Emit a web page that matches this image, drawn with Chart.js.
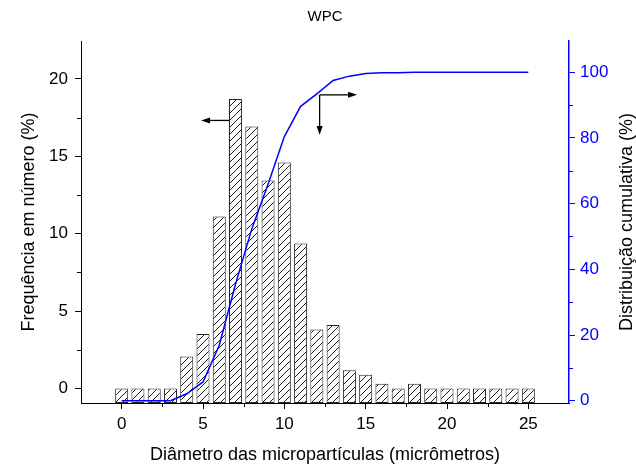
<!DOCTYPE html>
<html>
<head>
<meta charset="utf-8">
<script src="https://cdn.jsdelivr.net/npm/chart.js@4/dist/chart.umd.min.js"></script>
<style>
  html, body { margin: 0; padding: 0; background: #ffffff; }
  #wrap { width: 636px; height: 468px; }
</style>
</head>
<body>
<div id="wrap"><canvas id="c" width="636" height="468"></canvas></div>
<script>
// Particle size distribution (WPC)
const diameters = [0, 1, 2, 3, 4, 5, 6, 7, 8, 9, 10, 11, 12, 13, 14, 15, 16, 17, 18, 19, 20, 21, 22, 23, 24, 25];
const frequency = [0, 0, 0, 0, 2.07, 3.53, 11.12, 18.70, 16.93, 13.44, 14.61, 9.37, 3.81, 4.11, 1.18, 0.90, 0.32, 0, 0.32, 0, 0, 0, 0, 0, 0, 0];
const cumulative = [0, 0, 0, 0, 2.1, 5.7, 16.9, 35.5, 52.3, 65.9, 80.4, 89.6, 93.4, 97.5, 98.8, 99.6, 99.8, 99.8, 100, 100, 100, 100, 100, 100, 100, 100];

const diameterTicks = [0, 5, 10, 15, 20, 25];
const freqTicks = [0, 5, 10, 15, 20];
const cumTicks = [0, 20, 40, 60, 80, 100];
const xMinorTicks = [2.5, 7.5, 12.5, 17.5, 22.5];
const freqMinorTicks = [2.5, 7.5, 12.5, 17.5];
const cumMinorTicks = [10, 30, 50, 70, 90];

const xRange = [-2.5, 27.5];
const freqRange = [-0.93, 22.45];
const cumRange = [-0.7, 109.5];

const titleText = 'WPC';
const xTitle = 'Diâmetro das micropartículas (micrômetros)';
const freqTitle = 'Frequência em número (%)';
const cumTitle = 'Distribuição cumulativa (%)';

const BLUE = '#0000ff';
const FONT = '"Liberation Sans", Arial, sans-serif';
const TICK_SIZE = 17;
const AXIS_TITLE_SIZE = 18;

// Guide arrows pointing each curve to its axis (data units)
const guideArrows = [
  { xAxis: 'x', yAxis: 'y', pts: [[6.64, 17.32], [4.88, 17.32]] },
  { xAxis: 'x', yAxis: 'y1', pts: [[12.17, 93.1], [12.17, 80.9]] },
  { xAxis: 'x', yAxis: 'y1', pts: [[12.17, 93.1], [14.47, 93.1]] }
];

// Diagonal hatch fill for the histogram bars
function makeHatch() {
  const s = 7;
  const p = document.createElement('canvas');
  p.width = s; p.height = s;
  const g = p.getContext('2d');
  g.fillStyle = '#ffffff';
  g.fillRect(0, 0, s, s);
  g.strokeStyle = '#000000';
  g.lineWidth = 0.9;
  g.beginPath();
  g.moveTo(0, s); g.lineTo(s, 0);
  g.moveTo(-1, 1); g.lineTo(1, -1);
  g.moveTo(s - 1, s + 1); g.lineTo(s + 1, s - 1);
  g.stroke();
  return document.getElementById('c').getContext('2d').createPattern(p, 'repeat');
}

const fixedTicks = list => scale => { scale.ticks = list.map(v => ({ value: v })); };

const decor = {
  id: 'decor',
  afterDraw(chart) {
    const ctx = chart.ctx;
    const area = chart.chartArea;
    const sx = chart.scales.x, sy = chart.scales.y, sy1 = chart.scales.y1;
    ctx.save();

    // minor tick marks
    ctx.lineWidth = 1;
    ctx.strokeStyle = '#000000';
    ctx.beginPath();
    xMinorTicks.forEach(v => {
      const px = Math.round(sx.getPixelForValue(v)) + 0.5;
      ctx.moveTo(px, area.bottom); ctx.lineTo(px, area.bottom + 4);
    });
    freqMinorTicks.forEach(v => {
      const py = Math.round(sy.getPixelForValue(v)) + 0.5;
      ctx.moveTo(area.left, py); ctx.lineTo(area.left - 4, py);
    });
    ctx.stroke();
    ctx.strokeStyle = BLUE;
    ctx.beginPath();
    cumMinorTicks.forEach(v => {
      const py = Math.round(sy1.getPixelForValue(v)) + 0.5;
      ctx.moveTo(area.right, py); ctx.lineTo(area.right + 4, py);
    });
    ctx.stroke();

    // guide arrows
    ctx.strokeStyle = '#000000';
    ctx.fillStyle = '#000000';
    ctx.lineWidth = 1.3;
    guideArrows.forEach(a => {
      const xs = chart.scales[a.xAxis], ys = chart.scales[a.yAxis];
      const p0 = [xs.getPixelForValue(a.pts[0][0]), ys.getPixelForValue(a.pts[0][1])];
      const p1 = [xs.getPixelForValue(a.pts[1][0]), ys.getPixelForValue(a.pts[1][1])];
      const ang = Math.atan2(p1[1] - p0[1], p1[0] - p0[0]);
      const len = 9, half = 3;
      const bx = p1[0] - len * Math.cos(ang), by = p1[1] - len * Math.sin(ang);
      ctx.beginPath();
      ctx.moveTo(p0[0], p0[1]); ctx.lineTo(bx, by);
      ctx.stroke();
      ctx.beginPath();
      ctx.moveTo(p1[0], p1[1]);
      ctx.lineTo(bx - half * Math.sin(ang), by + half * Math.cos(ang));
      ctx.lineTo(bx + half * Math.sin(ang), by - half * Math.cos(ang));
      ctx.closePath();
      ctx.fill();
    });

    // titles
    const cx = (area.left + area.right) / 2;
    const cy = (area.top + area.bottom) / 2;
    ctx.fillStyle = '#000000';
    ctx.textAlign = 'center';
    ctx.textBaseline = 'middle';
    ctx.font = '15px ' + FONT;
    ctx.fillText(titleText, cx, 17);
    ctx.font = AXIS_TITLE_SIZE + 'px ' + FONT;
    ctx.fillText(xTitle, cx, 455);
    ctx.save();
    ctx.translate(29, cy);
    ctx.rotate(-Math.PI / 2);
    ctx.fillText(freqTitle, 0, 0);
    ctx.restore();
    ctx.save();
    ctx.translate(627, cy);
    ctx.rotate(-Math.PI / 2);
    ctx.fillText(cumTitle, 0, 0);
    ctx.restore();

    ctx.restore();
  }
};

new Chart(document.getElementById('c'), {
  data: {
    datasets: [
      {
        type: 'line',
        label: 'Distribuição cumulativa',
        data: diameters.map((d, i) => ({ x: d, y: cumulative[i] })),
        yAxisID: 'y1',
        borderColor: BLUE,
        borderWidth: 1.5,
        pointRadius: 0,
        tension: 0,
        fill: false,
        order: 0
      },
      {
        type: 'bar',
        label: 'Frequência',
        data: diameters.map((d, i) => ({ x: d, y: frequency[i] })),
        yAxisID: 'y',
        base: freqRange[0],
        backgroundColor: makeHatch(),
        borderColor: '#222222',
        borderWidth: 1,
        borderSkipped: false,
        barPercentage: 0.8,
        categoryPercentage: 1.0,
        order: 1
      }
    ]
  },
  options: {
    responsive: false,
    animation: false,
    devicePixelRatio: 1,
    layout: { padding: { top: 41, left: 0, right: 0, bottom: 0 } },
    plugins: {
      legend: { display: false },
      title: { display: false },
      tooltip: { enabled: false }
    },
    scales: {
      x: {
        type: 'linear',
        position: 'bottom',
        offset: false,
        min: xRange[0],
        max: xRange[1],
        afterBuildTicks: fixedTicks(diameterTicks),
        afterFit: s => { s.height = 65; },
        ticks: {
          color: '#000000',
          font: { family: FONT, size: TICK_SIZE },
          padding: 5,
          maxRotation: 0,
          autoSkip: false
        },
        grid: { display: true, drawOnChartArea: false, drawTicks: true, tickLength: 6, tickColor: '#000000', color: '#000000', offset: false },
        border: { display: true, color: '#000000', width: 1 }
      },
      y: {
        type: 'linear',
        position: 'left',
        min: freqRange[0],
        max: freqRange[1],
        afterBuildTicks: fixedTicks(freqTicks),
        afterFit: s => { s.width = 81; },
        ticks: {
          color: '#000000',
          font: { family: FONT, size: TICK_SIZE },
          padding: 7,
          autoSkip: false
        },
        grid: { display: true, drawOnChartArea: false, drawTicks: true, tickLength: 6, tickColor: '#000000', color: '#000000' },
        border: { display: true, color: '#000000', width: 1 }
      },
      y1: {
        type: 'linear',
        position: 'right',
        min: cumRange[0],
        max: cumRange[1],
        afterBuildTicks: fixedTicks(cumTicks),
        afterFit: s => { s.width = 67; },
        ticks: {
          color: BLUE,
          font: { family: FONT, size: TICK_SIZE },
          padding: 5,
          autoSkip: false
        },
        grid: { display: true, drawOnChartArea: false, drawTicks: true, tickLength: 6, tickColor: BLUE, color: BLUE },
        border: { display: true, color: BLUE, width: 1.5 }
      }
    }
  },
  plugins: [decor]
});
</script>
</body>
</html>
